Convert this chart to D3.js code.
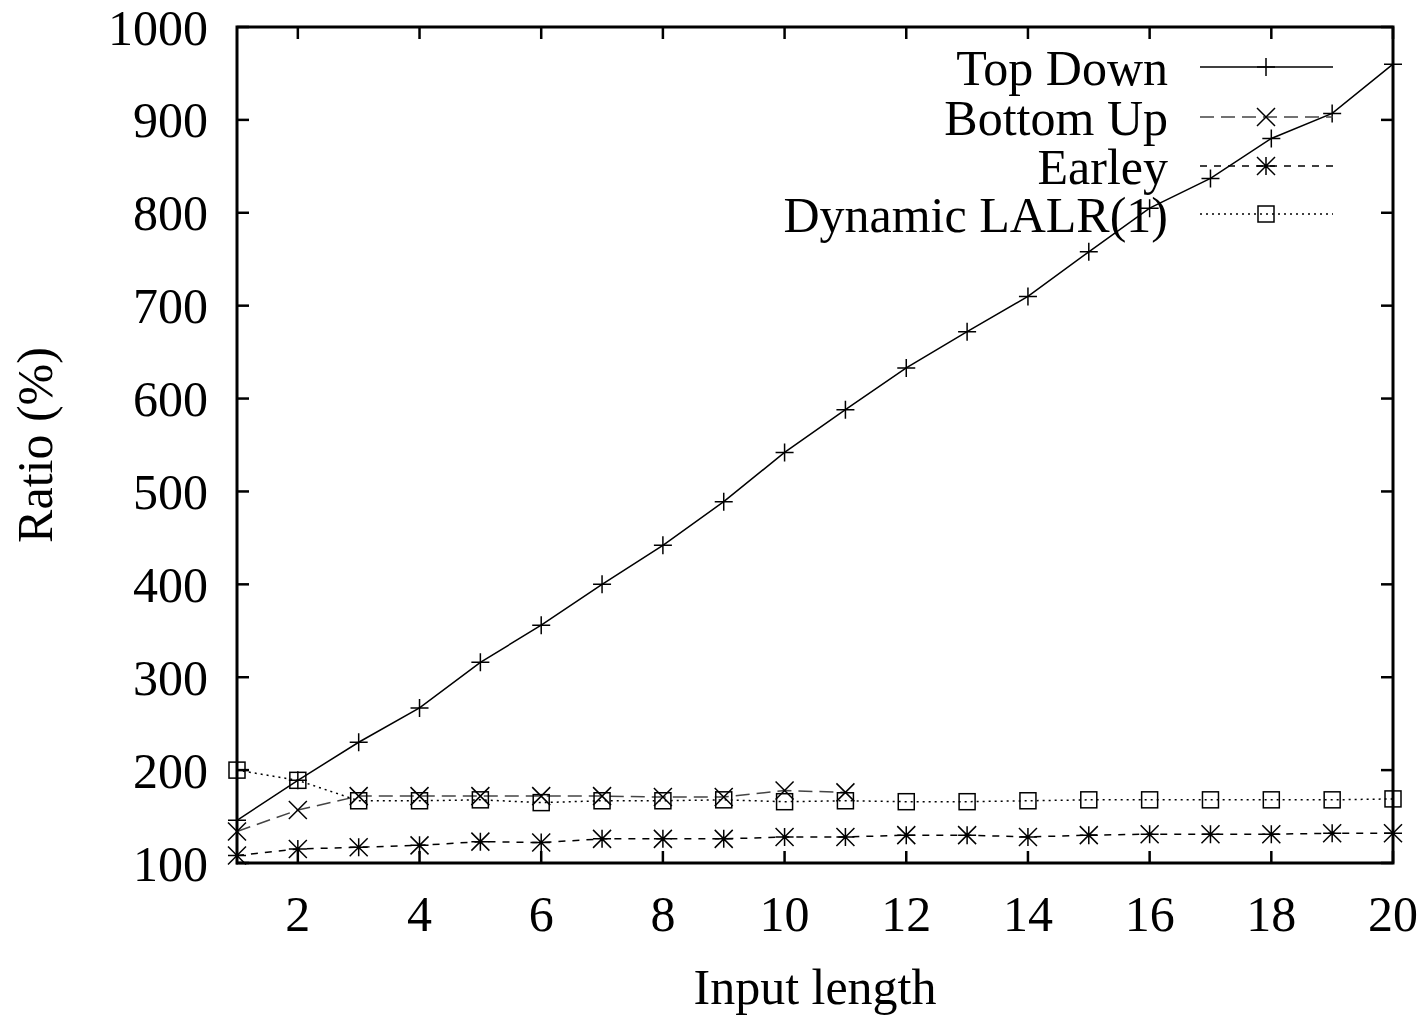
<!DOCTYPE html>
<html>
<head>
<meta charset="utf-8">
<script src="https://cdn.jsdelivr.net/npm/d3@7"></script>
<style>
  body { margin: 0; background: #fff; }
  text { font-family: "Liberation Serif", "DejaVu Serif", serif; }
</style>
</head>
<body>
<div id="chart"></div>
<script>
// input lengths 1..20
const lengths = d3.range(1, 21);

const topDown = [146, 189, 230, 267, 316, 356, 400, 442, 489, 542, 588, 633, 672, 710, 758, 805, 837, 880, 907, 960];
const bottomUp = [134, 157, 172, 172, 172, 172, 172, 171, 171, 178, 176];
const earley = [108, 115, 117, 119, 123, 122, 126, 126, 126, 128, 128, 130, 130, 128, 130, 131, 131, 131, 132, 132];
const dynLalr = [200, 189, 167, 167, 168, 165, 167, 167, 168, 166, 167, 166, 166, 167, 168, 168, 168, 168, 168, 169];

const seriesNames = ["Top Down", "Bottom Up", "Earley", "Dynamic LALR(1)"];
const yTicks = [100, 200, 300, 400, 500, 600, 700, 800, 900, 1000];
const xTicks = [2, 4, 6, 8, 10, 12, 14, 16, 18, 20];

const width = 1422, height = 1016;
const margin = {left: 237, right: 29, top: 27, bottom: 153};

const x = d3.scaleLinear().domain([1, 20]).range([margin.left, width - margin.right]);
const y = d3.scaleLinear().domain([100, 1000]).range([height - margin.bottom, margin.top]);

const svg = d3.select("#chart").append("svg")
    .attr("width", width)
    .attr("height", height);

const fontSize = 50;

// ticks (inward, mirrored on all sides)
const tickLen = 12;
const gTicks = svg.append("g").attr("stroke", "#000").attr("stroke-width", 2.5);
for (let t of yTicks) {
    gTicks.append("line").attr("x1", x.range()[0]).attr("x2", x.range()[0] + tickLen).attr("y1", y(t)).attr("y2", y(t));
    gTicks.append("line").attr("x1", x.range()[1]).attr("x2", x.range()[1] - tickLen).attr("y1", y(t)).attr("y2", y(t));
}
for (let t of xTicks) {
    gTicks.append("line").attr("x1", x(t)).attr("x2", x(t)).attr("y1", y.range()[0]).attr("y2", y.range()[0] - tickLen);
    gTicks.append("line").attr("x1", x(t)).attr("x2", x(t)).attr("y1", y.range()[1]).attr("y2", y.range()[1] + tickLen);
}

svg.append("g").selectAll("text")
    .data(yTicks)
    .join("text")
    .attr("x", margin.left - 29)
    .attr("y", d => y(d))
    .attr("dy", "0.35em")
    .attr("text-anchor", "end")
    .attr("font-size", fontSize)
    .text(d => d);

svg.append("g").selectAll("text")
    .data(xTicks)
    .join("text")
    .attr("x", d => x(d))
    .attr("y", y.range()[0] + 68)
    .attr("text-anchor", "middle")
    .attr("font-size", fontSize)
    .text(d => d);

// axis titles
svg.append("text")
    .attr("x", (x.range()[0] + x.range()[1]) / 2)
    .attr("y", 1004)
    .attr("text-anchor", "middle")
    .attr("font-size", fontSize)
    .text("Input length");

svg.append("text")
    .attr("transform", `translate(52, ${(y.range()[0] + y.range()[1]) / 2}) rotate(-90)`)
    .attr("text-anchor", "middle")
    .attr("font-size", fontSize)
    .text("Ratio (%)");

// marker shapes
const ms = 9;
const markers = [
    (g) => g.append("path").attr("d", `M${-ms},0H${ms}M0,${-ms}V${ms}`),
    (g) => g.append("path").attr("d", `M${-ms},${-ms}L${ms},${ms}M${-ms},${ms}L${ms},${-ms}`),
    (g) => g.append("path").attr("d", `M${-ms},0H${ms}M0,${-ms}V${ms}M${-ms},${-ms}L${ms},${ms}M${-ms},${ms}L${ms},${-ms}`),
    (g) => g.append("rect").attr("x", -8).attr("y", -8).attr("width", 16).attr("height", 16).attr("fill", "none")
];
const dashes = [null, "14,7", "7,7", "2,4"];
const strokes = ["#000", "#444", "#000", "#000"];
const allData = [topDown, bottomUp, earley, dynLalr];

const line = d3.line().x((d, i) => x(lengths[i])).y(d => y(d));

allData.forEach((vals, k) => {
    const g = svg.append("g").attr("fill", "none").attr("stroke", strokes[k]).attr("stroke-width", 1.5);
    g.append("path")
        .attr("d", line(vals))
        .attr("stroke-dasharray", dashes[k]);
    vals.forEach((v, i) => {
        const mg = g.append("g").attr("transform", `translate(${x(lengths[i])},${y(v)})`).attr("stroke", "#000");
        markers[k](mg);
    });
});

// legend
const legendY = [67, 117, 166, 214];
seriesNames.forEach((name, k) => {
    svg.append("text")
        .attr("x", 1168)
        .attr("y", legendY[k])
        .attr("dy", "0.35em")
        .attr("text-anchor", "end")
        .attr("font-size", fontSize)
        .text(name);
    const g = svg.append("g").attr("fill", "none").attr("stroke", strokes[k]).attr("stroke-width", 1.5);
    g.append("line")
        .attr("x1", 1200).attr("x2", 1333)
        .attr("y1", legendY[k]).attr("y2", legendY[k])
        .attr("stroke-dasharray", dashes[k]);
    const mg = g.append("g").attr("transform", `translate(1266,${legendY[k]})`).attr("stroke", "#000");
    markers[k](mg);
});

// frame
svg.append("rect")
    .attr("x", x.range()[0])
    .attr("y", y.range()[1])
    .attr("width", x.range()[1] - x.range()[0])
    .attr("height", y.range()[0] - y.range()[1])
    .attr("fill", "none")
    .attr("stroke", "#000")
    .attr("stroke-width", 3);
</script>
</body>
</html>
